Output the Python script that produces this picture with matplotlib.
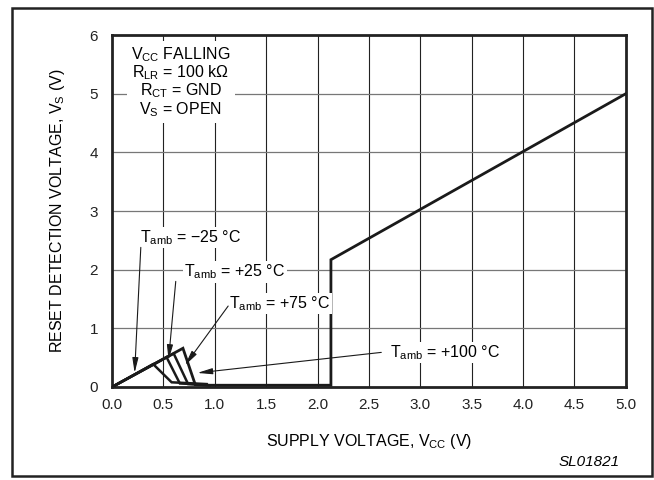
import numpy as np
import matplotlib
matplotlib.use("Agg")
import matplotlib.pyplot as plt
from matplotlib.patches import Rectangle

plt.rcParams['font.family'] = ['Liberation Sans', 'DejaVu Sans']
plt.rcParams['mathtext.fontset'] = 'custom'
plt.rcParams['mathtext.rm'] = 'Liberation Sans'
plt.rcParams['mathtext.default'] = 'regular'

# low-voltage part of the curve, one per ambient temperature
vcc_m25 = [0.0, 0.40, 0.58, 0.92]
vs_m25 = [0.0, 0.39, 0.08, 0.05]
vcc_p25 = [0.0, 0.53, 0.66, 0.92]
vs_p25 = [0.0, 0.51, 0.06, 0.04]
vcc_p75 = [0.0, 0.60, 0.74, 0.95]
vs_p75 = [0.0, 0.57, 0.05, 0.03]
# +100 degC curve, continues into the common upper part
vcc_main = [0.0, 0.69, 0.81, 0.95, 2.13, 2.13, 5.0]
vs_main = [0.0, 0.66, 0.04, 0.03, 0.03, 2.17, 5.0]

# annotation labels: text, text position, arrow tip
labels = ['$T_{amb}$ = \u221225 \u00b0C', '$T_{amb}$ = +25 \u00b0C',
          '$T_{amb}$ = +75 \u00b0C', '$T_{amb}$ = +100 \u00b0C']
label_xy = [(0.27, 2.55), (0.70, 1.96), (1.14, 1.42), (2.70, 0.59)]
tip_xy = [(0.22, 0.24), (0.55, 0.46), (0.71, 0.37), (0.83, 0.24)]
tail_xy = [(0.28, 2.38), (0.62, 1.80), (1.13, 1.38), (2.62, 0.59)]

fig = plt.figure(figsize=(6.54, 4.8), dpi=100)
ax = fig.add_axes([0.1713, 0.19375, 0.7857, 0.7333])

ax.set_xlim(0, 5)
ax.set_ylim(0, 6)
ax.set_xticks(np.arange(0, 5.01, 0.5))
ax.set_yticks(range(7))
ax.set_xticklabels(['%.1f' % v for v in np.arange(0, 5.01, 0.5)])
ax.tick_params(length=0, labelsize=11, pad=8, colors='#222222')
ax.tick_params(axis='y', pad=10)
for v in np.arange(0.5, 5, 0.5):
    ax.axvline(v, color='#222222', lw=0.8, zorder=1)
for v in range(1, 6):
    ax.axhline(v, color='#777777', lw=0.9, zorder=1)
for s in ax.spines.values():
    s.set_linewidth(2)
    s.set_color('#222222')

lc = '#1a1a1a'
ax.plot(vcc_m25, vs_m25, color=lc, lw=1.8, zorder=3, solid_joinstyle='miter')
ax.plot(vcc_p25, vs_p25, color=lc, lw=1.8, zorder=3, solid_joinstyle='miter')
ax.plot(vcc_p75, vs_p75, color=lc, lw=1.8, zorder=3, solid_joinstyle='miter')
ax.plot(vcc_main, vs_main, color=lc, lw=2.0, zorder=3, solid_joinstyle='miter')

box = dict(facecolor='white', edgecolor='none', pad=1)
ax.text(0.67, 5.2, 'V$_{CC}$ FALLING\nR$_{LR}$ = 100 k\u03a9\nR$_{CT}$ = GND\nV$_S$ = OPEN',
        ha='center', va='center', fontsize=11.5, linespacing=0.97,
        bbox=dict(facecolor='white', edgecolor='none', pad=3), zorder=4)

for lab, pos, tip, tail in zip(labels, label_xy, tip_xy, tail_xy):
    ax.text(pos[0], pos[1], lab, ha='left', va='center', fontsize=11.5,
            bbox=box, zorder=4)
    ax.annotate('', xy=tip, xytext=tail,
                arrowprops=dict(arrowstyle='-|>,head_length=0.9,head_width=0.18',
                                color=lc, lw=0.8, shrinkA=0, shrinkB=0),
                zorder=5)

ax.set_xlabel('SUPPLY VOLTAGE, V$_{CC}$ (V)', fontsize=11.5, labelpad=14)
ax.set_ylabel('RESET DETECTION VOLTAGE, V$_S$ (V)', fontsize=11.5, labelpad=16)

fig.text(0.948, 0.037, 'SL01821', ha='right', va='center', fontsize=11, style='italic')
fig.patches.append(Rectangle((0.018, 0.008), 0.979, 0.975, transform=fig.transFigure,
                             fill=False, lw=1.8, edgecolor='#222222'))

fig.savefig('out.png', dpi=100)
